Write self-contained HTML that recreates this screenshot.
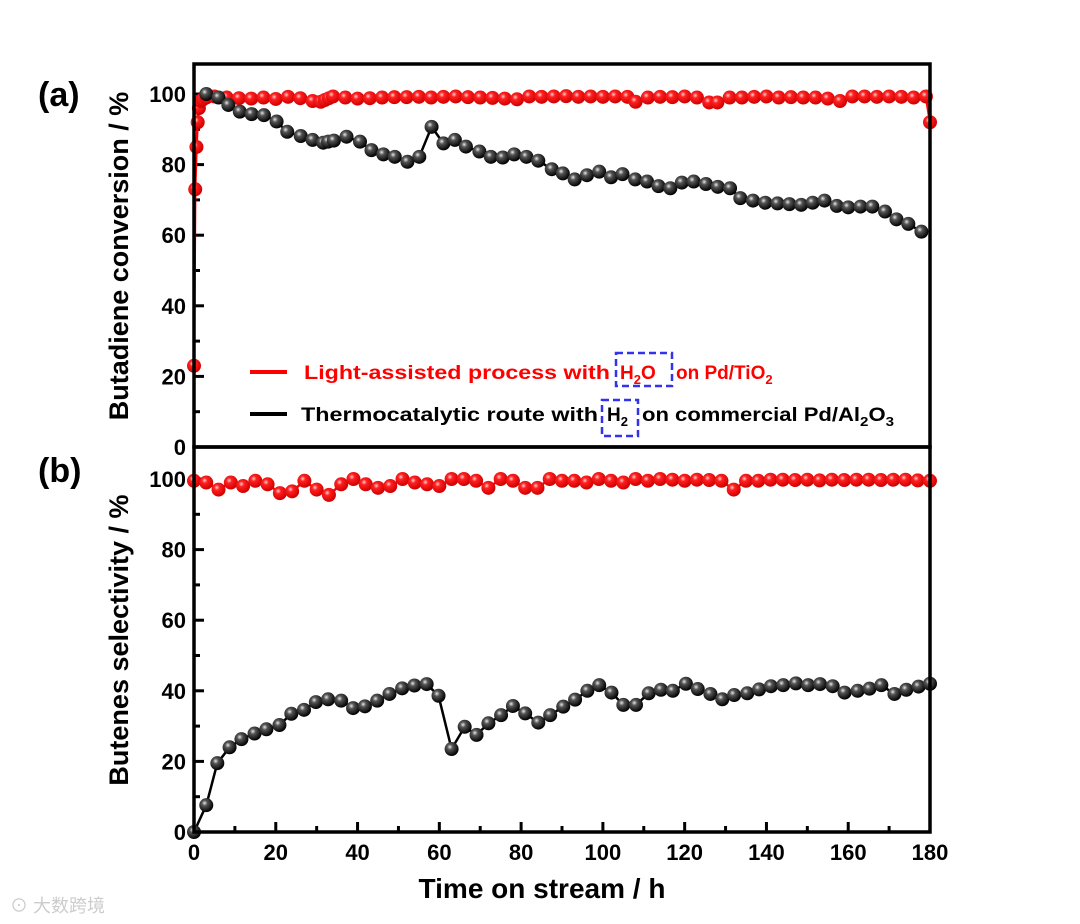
<!DOCTYPE html>
<html><head><meta charset="utf-8"><style>
body{margin:0;background:#fff;}
svg{display:block;font-family:"Liberation Sans",Arial,sans-serif;}
</style></head><body>
<svg id="chart" width="1080" height="924" viewBox="0 0 1080 924" xmlns="http://www.w3.org/2000/svg">
<defs>
<radialGradient id="gBlack" cx="0.38" cy="0.35" r="0.65"><stop offset="0" stop-color="#e8e8e8"/><stop offset="0.3" stop-color="#555"/><stop offset="1" stop-color="#000"/></radialGradient>
<radialGradient id="gRed" cx="0.38" cy="0.35" r="0.65"><stop offset="0" stop-color="#ffd0d0"/><stop offset="0.3" stop-color="#ff2020"/><stop offset="1" stop-color="#d00000"/></radialGradient>
</defs>
<g id="plot"></g>
<text x="38" y="106" font-size="34" font-weight="bold">(a)</text>
<text x="38" y="482" font-size="34" font-weight="bold">(b)</text>
<text transform="translate(128,256) rotate(-90)" text-anchor="middle" font-size="27" font-weight="bold">Butadiene conversion / %</text>
<text transform="translate(128,640) rotate(-90)" text-anchor="middle" font-size="27" font-weight="bold">Butenes selectivity / %</text>
<text x="542" y="898" text-anchor="middle" font-size="28" font-weight="bold">Time on stream / h</text>
<g>
<line x1="250" y1="372" x2="287" y2="372" stroke="#f00" stroke-width="4"/>
<g font-size="19" font-weight="bold" fill="#f00">
<text x="304" y="379" textLength="306" lengthAdjust="spacingAndGlyphs">Light-assisted process with</text>
<text x="620" y="379">H<tspan font-size="13" dy="5">2</tspan><tspan dy="-5">O</tspan></text>
<text x="676" y="379">on Pd/TiO<tspan font-size="13" dy="5">2</tspan></text>
</g>
<rect x="616" y="353" width="56" height="33" fill="none" stroke="#3333ee" stroke-width="2.5" stroke-dasharray="7,4"/>
<line x1="250" y1="414" x2="287" y2="414" stroke="#000" stroke-width="4"/>
<g font-size="19" font-weight="bold" fill="#000">
<text x="301" y="421" textLength="297" lengthAdjust="spacingAndGlyphs">Thermocatalytic route with</text>
<text x="607" y="421">H<tspan font-size="13" dy="5">2</tspan></text>
<text x="642" y="421" textLength="252" lengthAdjust="spacingAndGlyphs">on commercial Pd/Al<tspan font-size="13" dy="5">2</tspan><tspan dy="-5">O</tspan><tspan font-size="13" dy="5">3</tspan></text>
</g>
<rect x="602" y="400" width="36" height="36" fill="none" stroke="#3333ee" stroke-width="2.5" stroke-dasharray="7,4"/>
</g>
<text x="10" y="912" font-size="18" fill="#ccc" font-family="'Liberation Sans','Noto Sans CJK SC',sans-serif">⊙ 大数跨境</text>
</svg>
<script>
const xTicks=[0,20,40,60,80,100,120,140,160,180];
const yTicks=[0,20,40,60,80,100];
const convBlackT=[3,6,8.4,11.2,14.1,17.1,20.2,22.8,26.1,29,31.6,32.8,34.2,37.3,40.6,43.4,46.3,49.1,52.2,55.1,58.1,61,63.8,66.5,69.8,72.6,75.5,78.3,81.3,84.2,87.5,90.2,93.1,96.1,99.1,102,104.8,107.9,110.8,113.6,116.5,119.3,122.2,125.2,128.1,131.1,133.6,136.7,139.7,142.7,145.6,148.5,151.3,154.2,157.2,160,163,165.9,169,171.8,174.7,177.9];
const convBlackV=[100,99,96.9,95,94.3,94,92.2,89.3,88.1,87,86.2,86.5,86.8,87.9,86.5,84.1,82.9,82.2,80.8,82.2,90.7,86,87,85.1,83.7,82.2,82,82.9,82.2,81.1,78.7,77.5,75.8,77,78,76.4,77.3,75.8,75.2,73.9,73.3,74.9,75.2,74.5,73.7,73.3,70.5,69.8,69.2,69,68.8,68.6,69.2,69.8,68.3,67.9,68.1,68.1,66.7,64.5,63.2,61];
const convRedT=[0,0.3,0.6,0.9,1.2,1.6,2.2,3,5,8,11,14,17,20,23,26,29,31,32,33,34,37,40,43,46,49,52,55,58,61,64,67,70,73,76,79,82,85,88,91,94,97,100,103,106,108,111,114,117,120,123,126,128,131,134,137,140,143,146,149,152,155,158,161,164,167,170,173,176,179,180];
const convRedV=[23,73,85,92,96,98,98.5,99,99.3,99,98.8,98.7,99,98.6,99.2,98.8,98,97.8,98.3,98.8,99.3,99,98.7,98.8,99,99.1,99.1,99.2,99,99.2,99.3,99.1,99,98.9,98.7,98.5,99.3,99.2,99.3,99.4,99.2,99.3,99.2,99.3,99.2,97.8,99,99.2,99.1,99.3,99,97.6,97.6,99,99,99.2,99.3,99,99.1,99,99,98.7,98,99.3,99.3,99.2,99.3,99.2,99,99.3,92];
const selBlackT=[0,3,5.7,8.7,11.6,14.8,17.7,20.9,23.8,26.9,29.8,32.8,36,38.9,41.8,44.8,47.8,50.9,53.9,56.9,59.8,63,66.2,69.1,72,75.1,78,81,84.2,87.1,90.3,93.2,96.2,99.1,102.1,105,108.1,111.2,114.2,117.1,120.3,123.2,126.3,129.2,132.1,135.3,138.2,141.1,144.1,147.2,150.2,153.1,156.2,159.1,162.3,165.2,168.1,171.3,174.2,177.2,180];
const selBlackV=[0,7.6,19.5,24,26.3,27.9,29.1,30.3,33.5,34.6,36.8,37.6,37.2,35.1,35.6,37.2,39.1,40.7,41.5,41.9,38.6,23.5,29.8,27.5,30.8,33.1,35.7,33.6,31,33.1,35.5,37.5,40,41.6,39.5,36,36,39.3,40.3,40,42,40.5,39.1,37.6,38.8,39.3,40.4,41.3,41.6,42.1,41.6,41.9,41.3,39.5,40,40.6,41.6,39.1,40.3,41.2,42];
const selRedT=[0,3,6,9,12,15,18,21,24,27,30,33,36,39,42,45,48,51,54,57,60,63,66,69,72,75,78,81,84,87,90,93,96,99,102,105,108,111,114,117,120,123,126,129,132,135,138,141,144,147,150,153,156,159,162,165,168,171,174,177,180];
const selRedV=[99.5,99,97,99,98,99.5,98.5,96,96.5,99.5,97,95.5,98.5,100,98.5,97.5,98,100,99,98.5,98,100,100,99.5,97.5,100,99.5,97.5,97.5,100,99.5,99.5,99,100,99.5,99,100,99.5,100,99.8,99.5,99.8,99.7,99.5,97,99.5,99.5,99.8,99.8,99.7,99.8,99.6,99.8,99.7,99.8,99.8,99.7,99.8,99.8,99.6,99.5];

const NS='http://www.w3.org/2000/svg';
const g=document.getElementById('plot');
const X0=194,X1=930;
const xs=t=>X0+(X1-X0)*t/180;
const panels=[{top:64,bot:447},{top:447,bot:832}];
const yA=v=>447-v*3.53;
const yB=v=>832-v*3.53;
function mk(tag,attrs){const e=document.createElementNS(NS,tag);for(const k in attrs)e.setAttribute(k,attrs[k]);g.appendChild(e);return e;}

function series(T,V,ys,color,grad,nm){
  let d='';T.forEach((t,i)=>{d+=(i?'L':'M')+xs(t).toFixed(1)+','+ys(V[i]).toFixed(1);});
  const p=mk('path',{d:d,fill:'none',stroke:color,'stroke-width':2.5});
  
  
  T.forEach((t,i)=>{
    const c=mk('circle',{cx:xs(t),cy:ys(V[i]),r:7,fill:'url(#'+grad+')'});
    
    
  });
}

[[yA,'a'],[yB,'b']].forEach(([ys,nm])=>{
  yTicks.forEach(v=>{
    const y=ys(v);
    const l=mk('line',{x1:X0,x2:X0+10,y1:y,y2:y,stroke:'#000','stroke-width':3});
    
    
    const tx=mk('text',{x:X0-8,y:y+8,'text-anchor':'end','font-size':22,'font-weight':'bold'});
    tx.textContent=v;
    
    
    if(v<100){const m=ys(v+10);const ml=mk('line',{x1:X0,x2:X0+6,y1:m,y2:m,stroke:'#000','stroke-width':3});
      
      }
  });
});
xTicks.forEach(t=>{
  const x=xs(t);
  const l=mk('line',{x1:x,x2:x,y1:832,y2:822,stroke:'#000','stroke-width':3});
  
  
  const tx=mk('text',{x:x,y:860,'text-anchor':'middle','font-size':22,'font-weight':'bold'});
  tx.textContent=t;
  
  
  if(t<180){const m=xs(t+10);const ml=mk('line',{x1:m,x2:m,y1:832,y2:826,stroke:'#000','stroke-width':3});
    
    }
});

series(convRedT,convRedV,yA,'#f00','gRed','conversion-light');
series(convBlackT,convBlackV,yA,'#000','gBlack','conversion-thermo');
series(selRedT,selRedV,yB,'#f00','gRed','selectivity-light');
series(selBlackT,selBlackV,yB,'#000','gBlack','selectivity-thermo');

panels.forEach((p,i)=>{
  const r=mk('rect',{x:X0,y:p.top,width:X1-X0,height:p.bot-p.top,fill:'none',stroke:'#000','stroke-width':3.5});
  
  
});
</script>
</body></html>
